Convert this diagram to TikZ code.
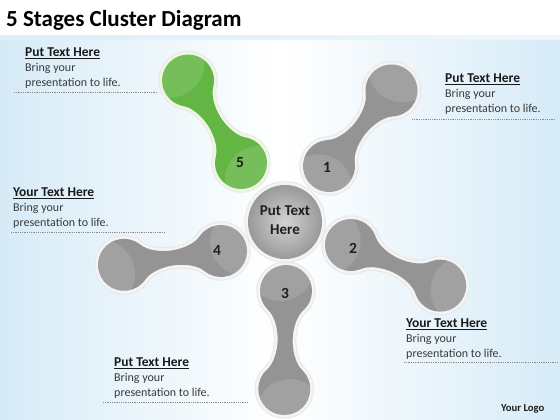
\documentclass[tikz,border=0pt]{standalone}
\usepackage{fontspec}
\setmainfont{Carlito}
\definecolor{bgblue}{RGB}{214,235,247}
\definecolor{dbgray}{RGB}{148,148,148}
\definecolor{dbgreen}{RGB}{100,182,68}
\definecolor{rimgray}{RGB}{244,244,244}
\definecolor{rimgreen}{RGB}{238,247,230}
\definecolor{bodytext}{RGB}{58,58,58}
\newcommand{\dbneck}{(19.3,17.4) .. controls (24.7,11.5) and (37,7.5) .. (49,7.5) .. controls (61,7.5) and (73.3,11.5) .. (78.7,17.4) -- (78.7,-17.4) .. controls (73.3,-11.5) and (61,-7.5) .. (49,-7.5) .. controls (37,-7.5) and (24.7,-11.5) .. (19.3,-17.4) -- cycle}
% #1 shift, #2 angle, #3 fill, #4 rim
\newcommand{\dumbbellshape}[4]{%
\begin{scope}[shift={#1},rotate=#2]
  \draw[line width=7.5,draw=black!9] (0,0) circle[radius=26] (98,0) circle[radius=26] \dbneck;
  \draw[line width=5.5,draw=#4] (0,0) circle[radius=26] (98,0) circle[radius=26] \dbneck;
  \fill[#3] (0,0) circle[radius=26] (98,0) circle[radius=26];
  \fill[#3] \dbneck;
  \begin{scope}
    \clip (0,0) circle[radius=26];
    \fill[white,opacity=.12] (-24,-6) circle[radius=34];
  \end{scope}
  \begin{scope}
    \clip (98,0) circle[radius=26];
    \fill[white,opacity=.12] (122,6) circle[radius=34];
  \end{scope}
\end{scope}}
\tikzset{
  heading/.style={anchor=base west,inner sep=0,font=\fontsize{13.5}{15}\selectfont\bfseries,text=black!90},
  bodyline/.style={anchor=base west,inner sep=0,font=\fontsize{12}{14}\selectfont,text=bodytext},
  numtext/.style={inner sep=0,font=\fontsize{15.5}{17}\selectfont\bfseries,text=black!88},
  rule/.style={draw=black!45,line width=0.6,dash pattern=on 0.8 off 1},
}
\begin{document}
\begin{tikzpicture}[x=1pt,y=1pt]
\useasboundingbox (0,0) rectangle (560,-420);
% background
\fill[white] (0,0) rectangle (560,-420);
\shade[left color=bgblue,right color=bgblue,middle color=white] (0,-38) rectangle (560,-420);
\shade[left color=bgblue!85,right color=bgblue!40] (0,-36) rectangle (560,-40);
% title
\node[anchor=base west,inner sep=0,font=\fontsize{23}{26}\selectfont\bfseries] (title) at (6,-27) {5 Stages Cluster Diagram};
% dumbbells
\dumbbellshape{(241,-163)}{122.7}{dbgreen}{rimgreen}
\dumbbellshape{(329,-166)}{50.4}{dbgray}{rimgray}
\dumbbellshape{(351,-245)}{-24.5}{dbgray}{rimgray}
\dumbbellshape{(286,-291)}{-91}{dbgray}{rimgray}
\dumbbellshape{(221,-251)}{-171.9}{dbgray}{rimgray}
% center circle
\draw[line width=7.5,draw=black!9] (285,-222) circle[radius=37];
\draw[line width=5.5,draw=rimgray] (285,-222) circle[radius=37];
\shade[inner color=black!17,outer color=black!40] (285,-222) circle[radius=37];
\node[inner sep=0] (center) at (285,-222) {};
\node[anchor=base,inner sep=0,font=\fontsize{15}{18}\selectfont\bfseries,text=black!88] (ct1) at (285,-215.5) {Put Text};
\node[anchor=base,inner sep=0,font=\fontsize{15}{18}\selectfont\bfseries,text=black!88] (ct2) at (285,-234) {Here};
% numbers
\node[numtext] (n5) at (240,-163) {5};
\node[numtext] (n1) at (327,-167) {1};
\node[numtext] (n2) at (353,-248) {2};
\node[numtext] (n3) at (285,-293) {3};
\node[numtext] (n4) at (217,-250) {4};
% text blocks
\node[heading] (tlh) at (25,-57) {\underline{Put Text Here}};
\node[bodyline] (tl1) at (25,-72) {Bring your};
\node[bodyline] (tl2) at (25,-86.5) {presentation to life.};
\coordinate (tlr1) at (14,-92); \coordinate (tlr2) at (158,-92);
\draw[rule] (tlr1) -- (tlr2);

\node[heading] (trh) at (445,-82.5) {\underline{Put Text Here}};
\node[bodyline] (tr1) at (445,-97.5) {Bring your};
\node[bodyline] (tr2) at (445,-112.5) {presentation to life.};
\coordinate (trr1) at (412,-119); \coordinate (trr2) at (555,-119);
\draw[rule] (trr1) -- (trr2);

\node[heading] (lmh) at (13,-196.5) {\underline{Your Text Here}};
\node[bodyline] (lm1) at (13,-211.5) {Bring your};
\node[bodyline] (lm2) at (13,-226.5) {presentation to life.};
\coordinate (lmr1) at (11,-232); \coordinate (lmr2) at (165,-232);
\draw[rule] (lmr1) -- (lmr2);

\node[heading] (rbh) at (406,-327.5) {\underline{Your Text Here}};
\node[bodyline] (rb1) at (406,-342.5) {Bring your};
\node[bodyline] (rb2) at (406,-357) {presentation to life.};
\coordinate (rbr1) at (404,-362.5); \coordinate (rbr2) at (558,-362.5);
\draw[rule] (rbr1) -- (rbr2);

\node[heading] (blh) at (114,-366.5) {\underline{Put Text Here}};
\node[bodyline] (bl1) at (114,-381.5) {Bring your};
\node[bodyline] (bl2) at (114,-396.5) {presentation to life.};
\coordinate (blr1) at (103,-402); \coordinate (blr2) at (248,-402);
\draw[rule] (blr1) -- (blr2);

\node[anchor=base west,inner sep=0,font=\fontsize{10.7}{12}\selectfont\bfseries,text=black!88] (logo) at (501,-411.5) {Your Logo};
\end{tikzpicture}
\end{document}
